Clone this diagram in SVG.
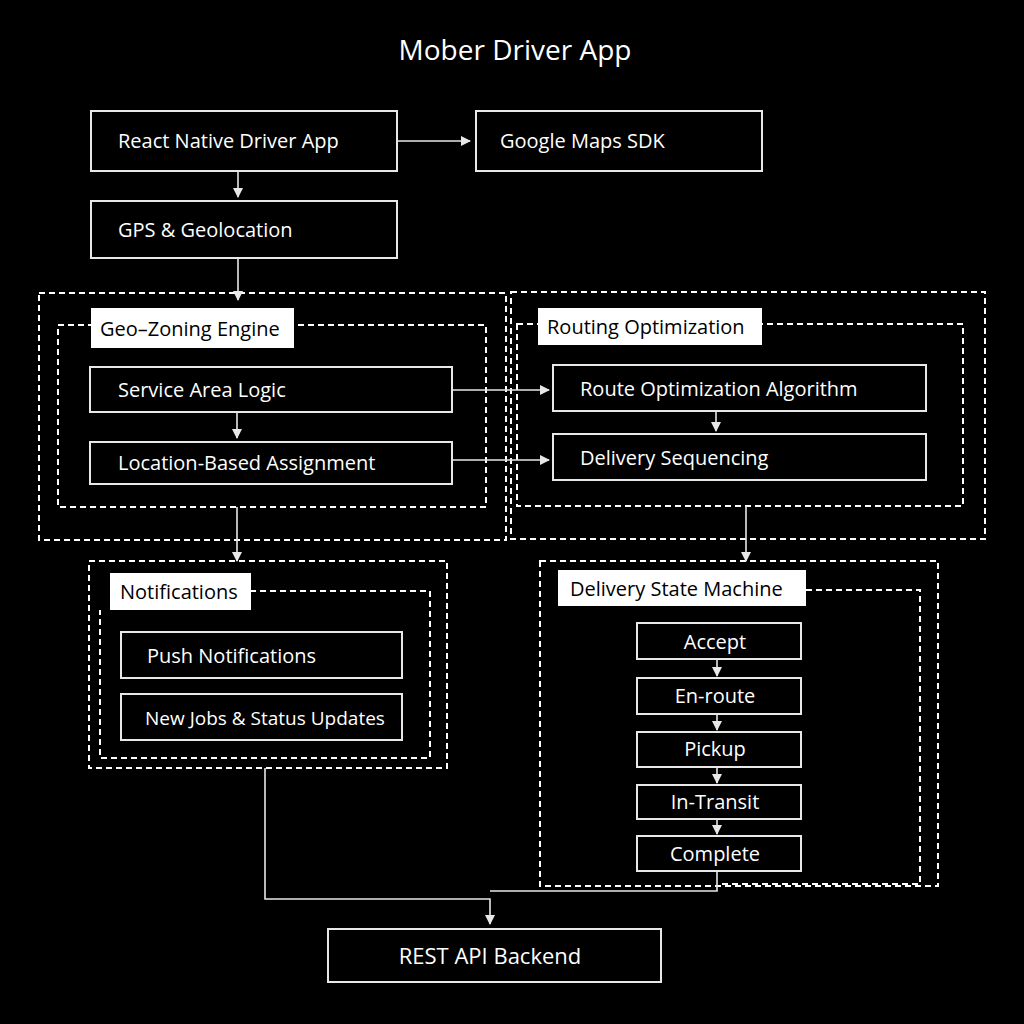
<svg xmlns="http://www.w3.org/2000/svg" width="1024" height="1024" viewBox="0 0 1024 1024">
<style>
text{font-family:"Open Sans","DejaVu Sans",sans-serif;fill:#fff;font-size:20px}
.box{fill:#000;stroke:#e8e8e8;stroke-width:2}
.lab{fill:#fff;stroke:none}
.labt{fill:#000}
.dash{fill:none;stroke:#fff;stroke-width:2;stroke-dasharray:6 4}
.c{fill:none;stroke:#e8e8e8;stroke-width:1.6}
</style>
<defs><marker id="a" markerWidth="10" markerHeight="10" refX="9" refY="5" orient="auto" markerUnits="userSpaceOnUse" viewBox="0 0 10 10"><path d="M0,0L10,5L0,10z" fill="#e8e8e8"/></marker></defs>
<rect width="1024" height="1024" fill="#000"/>
<text x="515" y="60" text-anchor="middle" style="font-size:28px">Mober Driver App</text>
<g id="containers">
<rect class="dash" x="39" y="293" width="467" height="247"/>
<rect class="dash" x="58" y="325" width="428" height="182"/>
<rect class="dash" x="511" y="292" width="474" height="247"/>
<rect class="dash" x="517" y="324" width="446" height="182"/>
<rect class="dash" x="89" y="561" width="358" height="207"/>
<path class="dash" d="M250,591H430V758H100V610"/>
<rect class="dash" x="540" y="561" width="398" height="325"/>
<path class="dash" d="M806,590H920V884H720"/>
</g>
<g id="n-react"><rect class="box" x="91" y="111" width="306" height="60"/><text x="118" y="148">React Native Driver App</text></g>
<g id="n-maps"><rect class="box" x="476" y="111" width="286" height="60"/><text x="500" y="148">Google Maps SDK</text></g>
<g id="n-gps"><rect class="box" x="91" y="201" width="306" height="57"/><text x="118" y="237">GPS &amp; Geolocation</text></g>
<g id="n-geo"><rect class="lab" x="91" y="308" width="203" height="40"/><text class="labt" x="100" y="336">Geo–Zoning Engine</text></g>
<g id="n-sal"><rect class="box" x="90" y="367" width="362" height="45"/><text x="118" y="397">Service Area Logic</text></g>
<g id="n-lba"><rect class="box" x="90" y="442" width="362" height="42"/><text x="118" y="470">Location-Based Assignment</text></g>
<g id="n-ro"><rect class="lab" x="538" y="308" width="224" height="37"/><text class="labt" x="547" y="334">Routing Optimization</text></g>
<g id="n-roa"><rect class="box" x="553" y="365" width="373" height="46"/><text x="580" y="396">Route Optimization Algorithm</text></g>
<g id="n-ds"><rect class="box" x="553" y="434" width="373" height="46"/><text x="580" y="465">Delivery Sequencing</text></g>
<g id="n-not"><rect class="lab" x="110" y="573" width="141" height="37"/><text class="labt" x="120" y="599">Notifications</text></g>
<g id="n-push"><rect class="box" x="121" y="632" width="281" height="46"/><text x="147" y="663">Push Notifications</text></g>
<g id="n-jobs"><rect class="box" x="121" y="694" width="281" height="46"/><text x="145" y="725" style="font-size:19px">New Jobs &amp; Status Updates</text></g>
<g id="n-dsm"><rect class="lab" x="558" y="570" width="248" height="36"/><text class="labt" x="570" y="596">Delivery State Machine</text></g>
<g id="n-accept"><rect class="box" x="637" y="623" width="164" height="36"/><text x="715" y="649" text-anchor="middle">Accept</text></g>
<g id="n-enroute"><rect class="box" x="637" y="678" width="164" height="36"/><text x="715" y="703" text-anchor="middle">En-route</text></g>
<g id="n-pickup"><rect class="box" x="637" y="732" width="164" height="35"/><text x="715" y="756" text-anchor="middle">Pickup</text></g>
<g id="n-transit"><rect class="box" x="637" y="785" width="164" height="34"/><text x="715" y="809" text-anchor="middle">In-Transit</text></g>
<g id="n-complete"><rect class="box" x="637" y="836" width="164" height="35"/><text x="715" y="861" text-anchor="middle">Complete</text></g>
<g id="n-rest"><rect class="box" x="328" y="929" width="333" height="53"/><text x="490" y="964" text-anchor="middle" style="font-size:22px">REST API Backend</text></g>
<g id="connectors">
<path class="c" d="M397,141H470" marker-end="url(#a)"/>
<path class="c" d="M238,171V197" marker-end="url(#a)"/>
<path class="c" d="M238,258V300" marker-end="url(#a)"/>
<path class="c" d="M237,412V438" marker-end="url(#a)"/>
<path class="c" d="M452,390H549" marker-end="url(#a)"/>
<path class="c" d="M452,460H549" marker-end="url(#a)"/>
<path class="c" d="M716,411V431" marker-end="url(#a)"/>
<path class="c" d="M237,507V561" marker-end="url(#a)"/>
<path class="c" d="M746,506V561" marker-end="url(#a)"/>
<path class="c" d="M717,659V676" marker-end="url(#a)"/>
<path class="c" d="M717,714V730" marker-end="url(#a)"/>
<path class="c" d="M717,767V783" marker-end="url(#a)"/>
<path class="c" d="M717,819V834" marker-end="url(#a)"/>
<path class="c" d="M265,768V899H490V924" marker-end="url(#a)"/>
<path class="c" d="M717,871V891H490"/>
</g>
</svg>
